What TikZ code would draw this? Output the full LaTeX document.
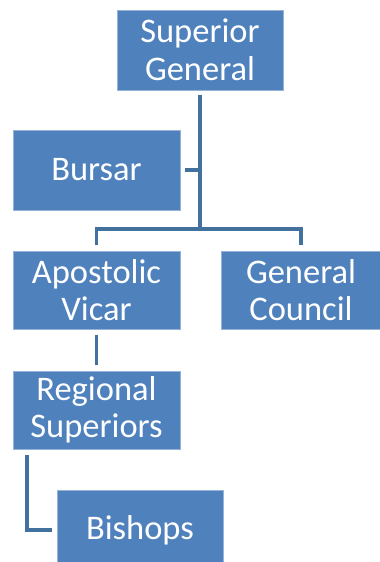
\documentclass[tikz,border=0pt]{standalone}
\usepackage{fontspec}
\setmainfont{Carlito}
\definecolor{boxblue}{HTML}{4F81BD}
\definecolor{lineblue}{HTML}{41719C}
\begin{document}
\begin{tikzpicture}[x=1pt,y=-1pt,
  orgbox/.style={rectangle, fill=boxblue, draw=boxblue!60!white, line width=0.6pt, text=white, align=center, inner sep=0pt,
    font=\fontsize{34.5}{37.5}\selectfont},
  conn/.style={draw=lineblue, line width=3.5pt}]
\clip (0,0) rectangle (380,562);
\useasboundingbox (0,0) rectangle (380,562);
\node[orgbox, minimum width=166pt, minimum height=80pt] (sg) at (200,50) {Superior\\General};
\node[orgbox, minimum width=167pt, minimum height=80pt] (bu) at (96.5,170) {Bursar};
\node[orgbox, minimum width=167pt, minimum height=78pt] (av) at (96.5,290) {Apostolic\\Vicar};
\node[orgbox, minimum width=160pt, minimum height=78pt] (gc) at (301,290) {General\\Council};
\node[orgbox, minimum width=167pt, minimum height=78pt] (rs) at (96.5,410) {Regional\\Superiors};
\node[orgbox, minimum width=166pt, minimum height=80pt] (bi) at (140,530) {Bishops};
\coordinate (bar) at (200,229);
\coordinate (rsl) at (27,449);
\draw[conn, shorten <=5pt] (sg.south) -- (bar);
\draw[conn, shorten <=6pt, shorten >=6pt] (av.north) |- (bar) -| (gc.north);
\draw[conn, shorten <=5pt] (bu.east) -- (bu.east -| bar);
\draw[conn, shorten <=6pt, shorten >=6pt] (av.south) -- (rs.north);
\draw[conn, shorten <=6pt, shorten >=5pt] (rsl) |- (bi.west);
\end{tikzpicture}
\end{document}
